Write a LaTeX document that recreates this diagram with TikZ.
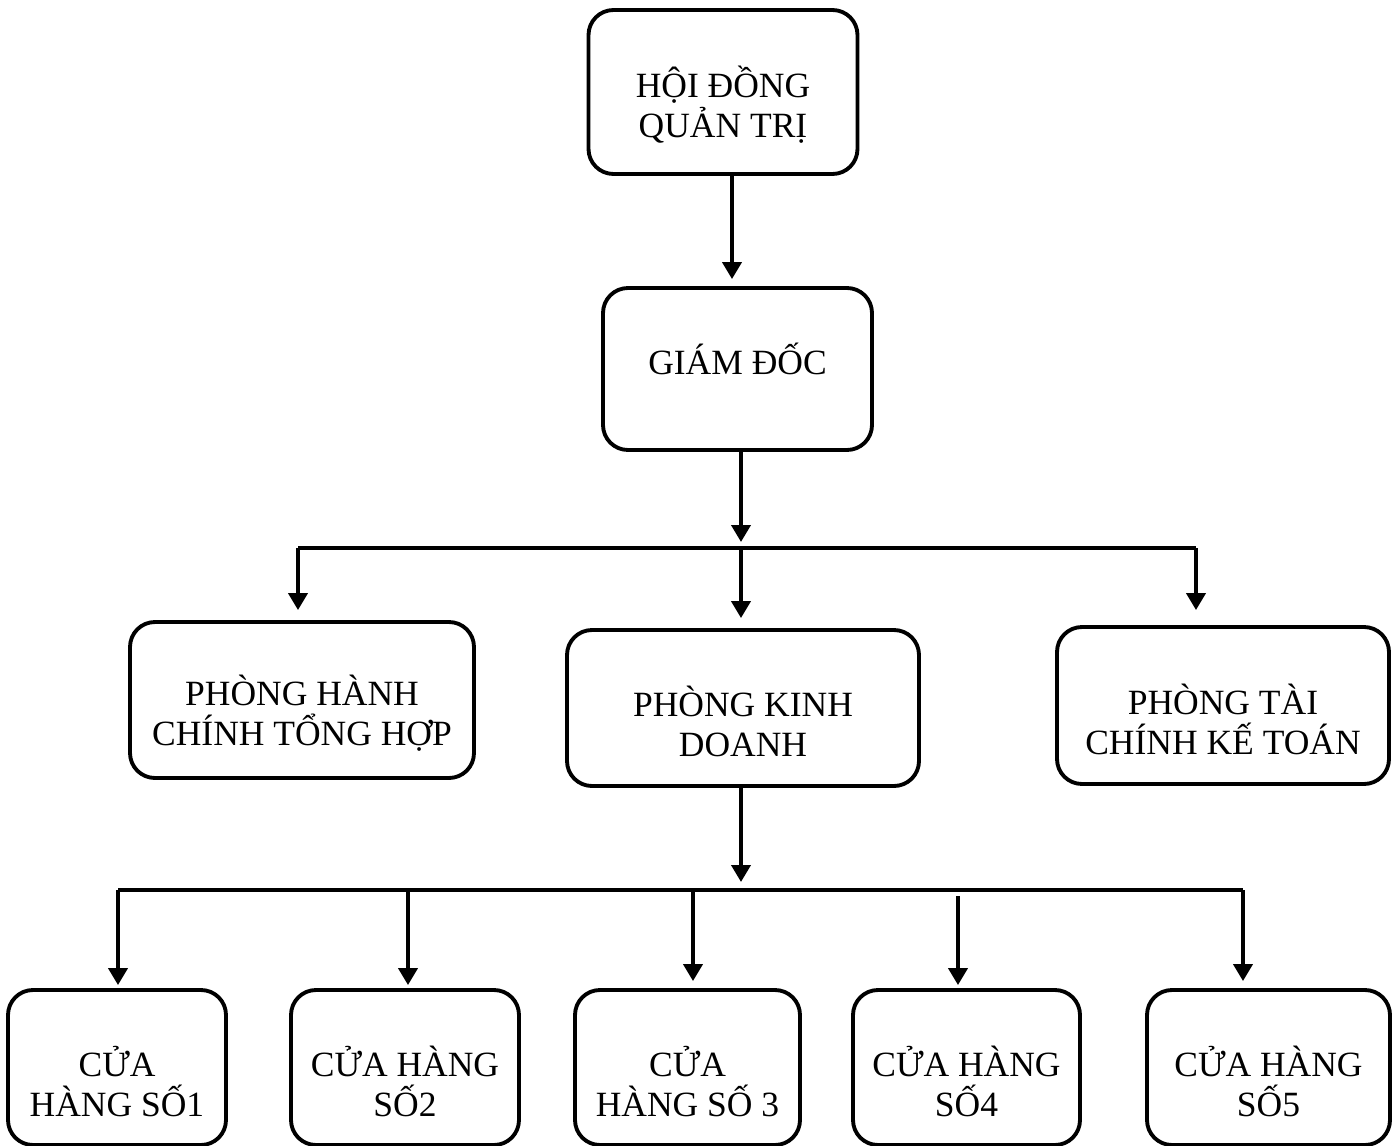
\documentclass[tikz,border=0pt]{standalone}
\usepackage{fontspec}
\setmainfont{Liberation Serif}
\usepackage{tikz}
\usetikzlibrary{positioning,arrows.meta,calc}
\newcommand{\topst}{\rule{0pt}{1.15cm}}

\begin{document}
\begin{tikzpicture}[
  every node/.style={font=\fontsize{20.2}{22.8}\selectfont,align=center},
  ent/.style={draw=black,rounded corners=0.5cm,line width=2.2pt,minimum height=3.12cm},
  fl/.style={-{Triangle[length=3.4mm,width=3.8mm]},line width=2.2pt},
  ln/.style={line width=2.2pt}
]
\useasboundingbox (0,0) rectangle (27.94,-22.92);
\node[ent,minimum width=5.38cm,minimum height=3.28cm] (hdqt) at (14.46,-1.84) {\topst HỘI ĐỒNG\\QUẢN TRỊ};
\node[ent,minimum width=5.38cm,minimum height=3.24cm,text depth=0.4cm] (gd) at (14.75,-7.38) {GIÁM ĐỐC};
\node[ent,minimum width=6.88cm] (phc) at (6.04,-14.0) {\topst PHÒNG HÀNH\\CHÍNH TỔNG HỢP};
\node[ent,minimum width=7.04cm] (pkd) at (14.86,-14.16) {\topst PHÒNG KINH\\DOANH};
\node[ent,minimum width=6.64cm,minimum height=3.14cm] (ptc) at (24.46,-14.11) {\topst PHÒNG TÀI\\CHÍNH KẾ TOÁN};
\node[ent,minimum width=4.36cm,minimum height=3.1cm] (ch1) at (2.34,-21.35) {\topst CỬA\\HÀNG SỐ1};
\node[ent,minimum width=4.56cm,minimum height=3.1cm] (ch2) at (8.10,-21.35) {\topst CỬA HÀNG\\SỐ2};
\node[ent,minimum width=4.50cm,minimum height=3.1cm] (ch3) at (13.75,-21.35) {\topst CỬA\\HÀNG SỐ 3};
\node[ent,minimum width=4.54cm,minimum height=3.1cm] (ch4) at (19.33,-21.35) {\topst CỬA HÀNG\\SỐ4};
\node[ent,minimum width=4.86cm,minimum height=3.1cm] (ch5) at (25.37,-21.35) {\topst CỬA HÀNG\\SỐ5};
\coordinate (b1) at (14.82,-10.96);
\coordinate (bl) at (5.96,-10.96);
\coordinate (br) at (23.92,-10.96);
\coordinate (b2) at (14.82,-17.8);
\coordinate (bl2) at (2.36,-17.8);
\coordinate (br2) at (24.86,-17.8);
\draw[fl,shorten >=0.14cm] ([xshift=0.18cm]hdqt.south) -- ([xshift=-0.11cm]gd.north);
\draw[fl,shorten >=0.12cm] ([xshift=0.07cm]gd.south) -- (b1);
\draw[ln] (bl) -- (br);
\draw[fl,shorten >=0.2cm] (bl) -- (bl |- phc.north);
\draw[fl,shorten >=0.2cm] (b1) -- (b1 |- pkd.north);
\draw[fl,shorten >=0.3cm] (br) -- (br |- ptc.north);
\draw[fl,shorten >=0.16cm] (b1 |- pkd.south) -- (b2);
\draw[ln] (bl2) -- (br2);
\draw[fl,shorten >=0.06cm] (bl2) -- (bl2 |- ch1.north);
\draw[fl,shorten >=0.06cm] (b2 -| 8.16,0) -- (ch2.north -| 8.16,0);
\draw[fl,shorten >=0.14cm] (b2 -| 13.86,0) -- (ch3.north -| 13.86,0);
\draw[fl,shorten >=0.06cm] ([yshift=-0.12cm]b2 -| 19.16,0) -- (ch4.north -| 19.16,0);
\draw[fl,shorten >=0.14cm] (br2) -- (br2 |- ch5.north);
\end{tikzpicture}
\end{document}
